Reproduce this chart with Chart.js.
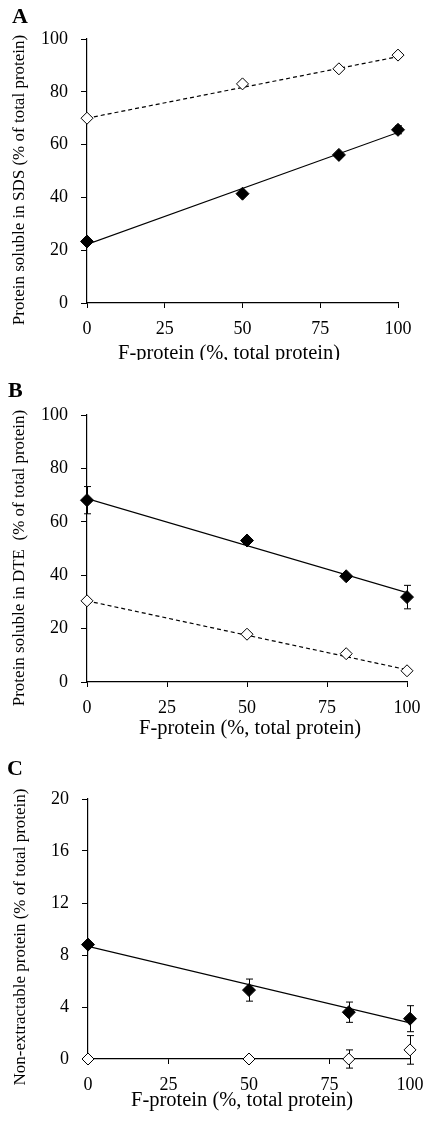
<!DOCTYPE html>
<html>
<head>
<meta charset="utf-8">
<script src="https://cdn.jsdelivr.net/npm/chart.js@4"></script>
<style>
  body { margin: 0; background: #fff; }
  .panel { position: absolute; left: 0; }
</style>
</head>
<body>
<div class="panel" style="top:0"><canvas id="chartA" width="428" height="360"></canvas></div>
<div class="panel" style="top:360px"><canvas id="chartB" width="428" height="380"></canvas></div>
<div class="panel" style="top:740px"><canvas id="chartC" width="428" height="384"></canvas></div>
<script>
// F-protein share (% of total protein)
const fProtein = [0, 50, 81, 100];
const fitEnds = [0, 100];
const xTicks = [0, 25, 50, 75, 100];

// Panel A: protein soluble in SDS
const sdsFilled = [23.3, 41.4, 56.1, 65.6];
const sdsFilledErr = [0, 0, 0, 1.5];
const sdsOpen = [70.0, 83.0, 88.7, 93.9];
const sdsOpenErr = [0, 0, 0, 0];
const sdsFilledFit = [22.2, 64.6];
const sdsOpenFit = [70.0, 93.3];
const sdsTicks = [0, 20, 40, 60, 80, 100];

// Panel B: protein soluble in DTE
const dteFilled = [68.1, 53.0, 39.6, 31.8];
const dteFilledErr = [5.1, 0, 0, 4.4];
const dteOpen = [30.4, 17.9, 10.6, 4.2];
const dteOpenErr = [0, 0, 0, 0];
const dteFilledFit = [68.7, 33.5];
const dteOpenFit = [30.4, 4.6];
const dteTicks = [0, 20, 40, 60, 80, 100];

// Panel C: non-extractable protein
const nonExFilled = [8.8, 5.3, 3.6, 3.1];
const nonExFilledErr = [0, 0.85, 0.78, 1.0];
const nonExOpen = [0, 0, 0, 0.7];
const nonExOpenErr = [0, 0, 0.7, 1.1];
const nonExFilledFit = [8.66, 2.77];
const nonExOpenFit = [0, 0];
const nonExTicks = [0, 4, 8, 12, 16, 20];

const serif = "'Liberation Serif', 'Times New Roman', serif";

function pts(xs, ys) {
    return xs.map((x, i) => ({ x: x, y: ys[i] }));
}

// error bars, drawn under the markers
const errorBars = {
    id: 'errorBars',
    beforeDatasetsDraw(chart) {
        const ctx = chart.ctx;
        const xs = chart.scales.x, ys = chart.scales.y;
        ctx.save();
        ctx.strokeStyle = '#000';
        ctx.lineWidth = 1;
        chart.data.datasets.forEach(ds => {
            if (!ds.errors) return;
            ds.data.forEach((p, i) => {
                const e = ds.errors[i];
                if (!e) return;
                const px = Math.round(xs.getPixelForValue(p.x)) + 0.5;
                const top = ys.getPixelForValue(p.y + e);
                const bot = ys.getPixelForValue(p.y - e);
                ctx.beginPath();
                ctx.moveTo(px, top); ctx.lineTo(px, bot);
                ctx.moveTo(px - 3.5, top); ctx.lineTo(px + 3.5, top);
                ctx.moveTo(px - 3.5, bot); ctx.lineTo(px + 3.5, bot);
                ctx.stroke();
            });
        });
        ctx.restore();
    }
};

// panel letter and axis titles
const panelText = {
    id: 'panelText',
    afterDraw(chart, args, o) {
        const ctx = chart.ctx;
        ctx.save();
        ctx.fillStyle = '#000';
        ctx.font = 'bold 22px ' + serif;
        ctx.textAlign = 'left';
        ctx.textBaseline = 'alphabetic';
        ctx.fillText(o.letter, o.letterX, o.letterY);

        ctx.font = '20.5px ' + serif;
        ctx.textAlign = 'center';
        ctx.textBaseline = 'middle';
        ctx.fillText(o.xTitle, o.xTitleX, o.xTitleY);

        ctx.font = '17px ' + serif;
        ctx.translate(o.yTitleX, o.yTitleY);
        ctx.rotate(-Math.PI / 2);
        ctx.fillText(o.yTitle, 0, 0);
        ctx.restore();
    }
};

function makeChart(id, cfg) {
    const h = document.getElementById(id).height;
    return new Chart(document.getElementById(id), {
        type: 'scatter',
        data: {
            datasets: [
                {
                    data: pts(fProtein, cfg.filled),
                    errors: cfg.filledErr,
                    pointStyle: 'rectRot',
                    pointRadius: 6.5,
                    backgroundColor: '#000',
                    borderColor: '#000',
                    borderWidth: 1,
                    clip: false
                },
                {
                    data: pts(fProtein, cfg.open),
                    errors: cfg.openErr,
                    pointStyle: 'rectRot',
                    pointRadius: 6,
                    backgroundColor: '#fff',
                    borderColor: '#000',
                    borderWidth: 1,
                    clip: false
                },
                {
                    data: pts(fitEnds, cfg.filledFit),
                    showLine: true,
                    pointRadius: 0,
                    borderColor: '#000',
                    borderWidth: 1.2
                },
                {
                    data: pts(fitEnds, cfg.openFit),
                    showLine: true,
                    pointRadius: 0,
                    borderColor: '#000',
                    borderWidth: 1.2,
                    borderDash: cfg.openDash
                }
            ]
        },
        options: {
            responsive: false,
            animation: false,
            layout: { padding: { left: 0, top: cfg.top, right: 428 - cfg.right, bottom: 0 } },
            plugins: {
                legend: { display: false },
                tooltip: { enabled: false },
                panelText: cfg.text
            },
            scales: {
                x: {
                    type: 'linear',
                    min: 0,
                    max: 100,
                    afterBuildTicks: s => { s.ticks = xTicks.map(v => ({ value: v })); },
                    afterFit: s => {
                        s.height = h - cfg.bottom;
                        s.paddingLeft = 0;
                        s.paddingRight = 0;
                    },
                    grid: { drawOnChartArea: false, tickLength: 5, color: '#000' },
                    border: { color: '#000', width: 1.2 },
                    ticks: { color: '#000', padding: 10, maxRotation: 0, font: { family: serif, size: 18 } }
                },
                y: {
                    min: cfg.yTicks[0],
                    max: cfg.yTicks[cfg.yTicks.length - 1],
                    afterBuildTicks: s => { s.ticks = cfg.yTicks.map(v => ({ value: v })); },
                    afterFit: s => {
                        s.width = cfg.left;
                        s.paddingTop = 0;
                        s.paddingBottom = 0;
                    },
                    grid: { drawOnChartArea: false, tickLength: 6, color: '#000' },
                    border: { color: '#000', width: 1.2 },
                    ticks: { color: '#000', padding: 13, font: { family: serif, size: 18 } }
                }
            }
        },
        plugins: [errorBars, panelText]
    });
}

makeChart('chartA', {
    filled: sdsFilled, filledErr: sdsFilledErr, open: sdsOpen, openErr: sdsOpenErr,
    filledFit: sdsFilledFit, openFit: sdsOpenFit, openDash: [4, 3], yTicks: sdsTicks,
    left: 87, right: 398, top: 39, bottom: 303,
    text: {
        letter: 'A', letterX: 12, letterY: 23,
        xTitle: 'F-protein (%, total protein)', xTitleX: 229, xTitleY: 354,
        yTitle: 'Protein soluble in SDS (% of total protein)', yTitleX: 20, yTitleY: 180
    }
});

makeChart('chartB', {
    filled: dteFilled, filledErr: dteFilledErr, open: dteOpen, openErr: dteOpenErr,
    filledFit: dteFilledFit, openFit: dteOpenFit, openDash: [4, 3], yTicks: dteTicks,
    left: 87, right: 407, top: 55, bottom: 322,
    text: {
        letter: 'B', letterX: 8, letterY: 37,
        xTitle: 'F-protein (%, total protein)', xTitleX: 250, xTitleY: 369,
        yTitle: 'Protein soluble in DTE  (% of total protein)', yTitleX: 20, yTitleY: 198
    }
});

makeChart('chartC', {
    filled: nonExFilled, filledErr: nonExFilledErr, open: nonExOpen, openErr: nonExOpenErr,
    filledFit: nonExFilledFit, openFit: nonExOpenFit, openDash: [], yTicks: nonExTicks,
    left: 88, right: 410, top: 59, bottom: 319,
    text: {
        letter: 'C', letterX: 7, letterY: 35,
        xTitle: 'F-protein (%, total protein)', xTitleX: 242, xTitleY: 361,
        yTitle: 'Non-extractable protein (% of total protein)', yTitleX: 21, yTitleY: 197
    }
});
</script>
</body>
</html>
